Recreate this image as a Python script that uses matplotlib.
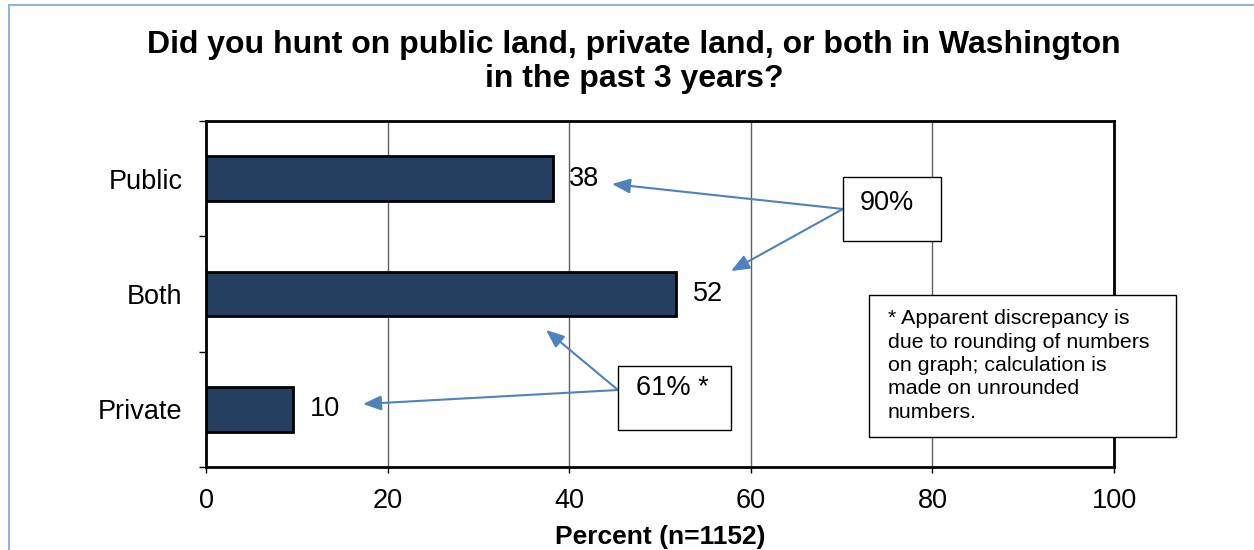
import matplotlib.pyplot as plt
from matplotlib.patches import Rectangle
import numpy as np

plt.rcParams['font.family'] = ['Liberation Sans', 'DejaVu Sans']

# survey results (percent of hunters), unrounded so the totals add up
categories = ["Public", "Both", "Private"]
values = [38.2, 51.8, 9.6]
xticks = [0, 20, 40, 60, 80, 100]

title = "Did you hunt on public land, private land, or both in Washington\nin the past 3 years?"
xlabel = "Percent (n=1152)"
note = ("* Apparent discrepancy is\ndue to rounding of numbers\non graph; calculation is\n"
        "made on unrounded\nnumbers.")

W, H = 1254, 550
fig = plt.figure(figsize=(W / 100, H / 100), dpi=100)


def px(x, y):
    # pixel position (from top-left) to figure fraction
    return (x / W, 1 - y / H)


# light blue frame around the chart
fig.patches.append(Rectangle(px(9, 600), (1300 - 9) / W, (600 - 5) / H,
                             transform=fig.transFigure, fill=False,
                             edgecolor='#8EB4E3', lw=1.5))

ax = fig.add_axes([206 / W, 1 - 467 / H, (1114 - 206) / W, (467 - 121) / H])
ypos = np.arange(len(categories))
ax.barh(ypos, values, height=0.39, color='#243F60', edgecolor='black', lw=2, zorder=3)
for y, v in zip(ypos, values):
    ax.text(v + 1.8, y, f"{v:.0f}", va='center', ha='left', fontsize=19.5, zorder=4)

ax.set_xlim(0, 100)
ax.set_ylim(-0.5, len(categories) - 0.5)
ax.invert_yaxis()
ax.set_xticks(xticks)
ax.set_yticks(ypos)
ax.set_yticklabels(categories)
ax.set_yticks(np.arange(len(categories) + 1) - 0.5, minor=True)
ax.tick_params(axis='y', which='major', length=0, pad=17, labelsize=19.5)
ax.tick_params(axis='y', which='minor', length=5, width=1, direction='out')
ax.tick_params(axis='x', length=4, width=1, direction='out', pad=11, labelsize=19.5)
ax.grid(axis='x', color='#606060', lw=1, zorder=0)
for s in ax.spines.values():
    s.set_linewidth(2)
ax.set_xlabel(xlabel, fontsize=19, fontweight='bold', labelpad=8)

fig.text(*px(634, 62), title, ha='center', va='center', fontsize=23,
         fontweight='bold', linespacing=1.15)

# callout boxes
box_style = dict(transform=fig.transFigure, facecolor='white', edgecolor='black',
                 lw=1, zorder=5, clip_on=False)
for x0, y0, x1, y1 in [(843, 177, 941, 241), (618, 366, 731, 430), (869, 295, 1176, 437)]:
    fig.patches.append(Rectangle(px(x0, y1), (x1 - x0) / W, (y1 - y0) / H, **box_style))

fig.text(*px(887, 203), "90%", ha='center', va='center', fontsize=19.5, zorder=6)
fig.text(*px(672, 388), "61% *", ha='center', va='center', fontsize=19.5, zorder=6)
fig.text(*px(888, 309), note, ha='left', va='top', fontsize=15.4, linespacing=1.3, zorder=6)

# arrows from the callouts to the values they sum
arrows = [((843, 209), (612, 184)), ((843, 209), (731, 271)),
          ((618, 390), (363, 404)), ((618, 390), (546, 330))]
for start, tip in arrows:
    ax.annotate("", xy=px(*tip), xycoords='figure fraction',
                xytext=px(*start), textcoords='figure fraction',
                arrowprops=dict(arrowstyle='-|>,head_length=1.1,head_width=0.45',
                                color='#4F81BD', lw=1.5, shrinkA=0, shrinkB=0),
                zorder=4, annotation_clip=False)

fig.savefig("out.png", dpi=100)
